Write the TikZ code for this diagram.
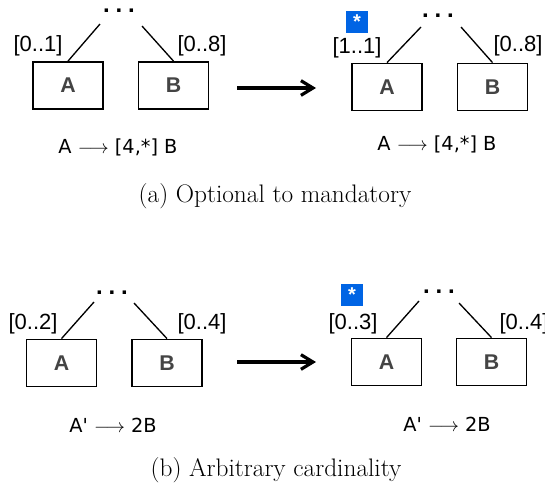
\documentclass[tikz,border=0pt]{standalone}
\usepackage{fontspec}
\usetikzlibrary{arrows.meta}
\newfontfamily\arialfont{Liberation Sans}
\newfontfamily\dejafont{DejaVu Sans}
\definecolor{starblue}{RGB}{0,100,228}
\definecolor{classgray}{RGB}{68,68,68}

\tikzset{every picture/.style={line width=0.75pt}}
\tikzset{
	classbox/.style={draw,line width=1.1pt,minimum width=52.5pt,minimum height=35.5pt,inner sep=0pt,font=\arialfont\bfseries\fontsize{16}{16}\selectfont,text=classgray},
	cardlabel/.style={font=\arialfont\fontsize{16.5}{17}\selectfont,inner sep=0pt},
	rulelabel/.style={font=\dejafont\fontsize{14.5}{16}\selectfont,inner sep=0pt},
	dotslabel/.style={font=\arialfont\bfseries\fontsize{18}{18}\selectfont,inner sep=0pt,anchor=base,text height=3pt,text depth=0pt},
	starmark/.style={fill=starblue,minimum size=16.5pt,inner sep=0pt,text=white,font=\arialfont\bfseries\fontsize{15}{15}\selectfont},
	captionlabel/.style={font=\fontsize{19}{21}\selectfont,inner sep=0pt},
	assoc/.style={line width=1pt},
	transform/.style={line width=2.4pt,-{Straight Barb[length=9pt,width=11pt]}}
}
\newcommand{\dotsrow}{.\hspace{4.4pt}.\hspace{4.4pt}.}

\begin{document}
\begin{tikzpicture}[x=0.75pt,y=0.75pt,yscale=-1,xscale=1]
	\useasboundingbox (0,0) rectangle (545,493); %set diagram to 545 x 493

	% (a) before
	\node [dotslabel] (dotsa1) at (119,12.5) {\dotsrow};
	\coordinate (enda1l) at (100,24);
	\coordinate (enda1r) at (142,26);
	%Shape: Rectangle
	\node [classbox] (clsa1A) at (68,85.5) {A};
	%Shape: Rectangle
	\node [classbox] (clsa1B) at (173.5,85.5) {B};
	\draw [assoc] (clsa1A.north) -- (enda1l);
	\draw [assoc] (clsa1B.north) -- (enda1r);
	% Text Node
	\node [cardlabel] (carda1A) at (38,46) {[0..1]};
	% Text Node
	\node [cardlabel] (carda1B) at (202,46) {[0..8]};
	% Text Node
	\node [rulelabel] (rulea1) at (118,147) {A $\longrightarrow$ [4,*] B};

	% (a) arrow
	\coordinate (arra0) at (237,88);
	\coordinate (arra1) at (316,88);
	\draw [transform] (arra0) -- (arra1);

	% (a) after
	\node [starmark] (stara) at (357,22) {*};
	\node [dotslabel] (dotsa2) at (438,17) {\dotsrow};
	\coordinate (enda2l) at (421,27);
	\coordinate (enda2r) at (461,27);
	%Shape: Rectangle
	\node [classbox] (clsa2A) at (387,87) {A};
	%Shape: Rectangle
	\node [classbox] (clsa2B) at (492.5,87) {B};
	\draw [assoc] (clsa2A.north) -- (enda2l);
	\draw [assoc] (clsa2B.north) -- (enda2r);
	% Text Node
	\node [cardlabel] (carda2A) at (357,48) {[1..1]};
	% Text Node
	\node [cardlabel] (carda2B) at (518,46) {[0..8]};
	% Text Node
	\node [rulelabel] (rulea2) at (437,144) {A $\longrightarrow$ [4,*] B};

	% Text Node
	\node [captionlabel] (capa) at (275,196) {(a) Optional to mandatory};

	% (b) before
	\node [dotslabel] (dotsb1) at (112,294) {\dotsrow};
	\coordinate (endb1l) at (94,302);
	\coordinate (endb1r) at (134,303);
	%Shape: Rectangle
	\node [classbox] (clsb1A) at (61.5,363) {A};
	%Shape: Rectangle
	\node [classbox] (clsb1B) at (167,363) {B};
	\draw [assoc] (clsb1A.north) -- (endb1l);
	\draw [assoc] (clsb1B.north) -- (endb1r);
	% Text Node
	\node [cardlabel] (cardb1A) at (33,324) {[0..2]};
	% Text Node
	\node [cardlabel] (cardb1B) at (202,324) {[0..4]};
	% Text Node
	\node [rulelabel] (ruleb1) at (113,425) {A' $\longrightarrow$ 2B};

	% (b) arrow
	\coordinate (arrb0) at (237,362);
	\coordinate (arrb1) at (316,362);
	\draw [transform] (arrb0) -- (arrb1);

	% (b) after
	\node [starmark] (starb) at (352,294.5) {*};
	\node [dotslabel] (dotsb2) at (439,293) {\dotsrow};
	\coordinate (endb2l) at (419,301);
	\coordinate (endb2r) at (459,303);
	%Shape: Rectangle
	\node [classbox] (clsb2A) at (386.5,362) {A};
	%Shape: Rectangle
	\node [classbox] (clsb2B) at (491.5,362) {B};
	\draw [assoc] (clsb2A.north) -- (endb2l);
	\draw [assoc] (clsb2B.north) -- (endb2r);
	% Text Node
	\node [cardlabel] (cardb2A) at (353,324) {[0..3]};
	% Text Node
	\node [cardlabel] (cardb2B) at (524,324) {[0..4]};
	% Text Node
	\node [rulelabel] (ruleb2) at (447,424) {A' $\longrightarrow$ 2B};

	% Text Node
	\node [captionlabel] (capb) at (276,470) {(b) Arbitrary cardinality};

\end{tikzpicture}
\end{document}
